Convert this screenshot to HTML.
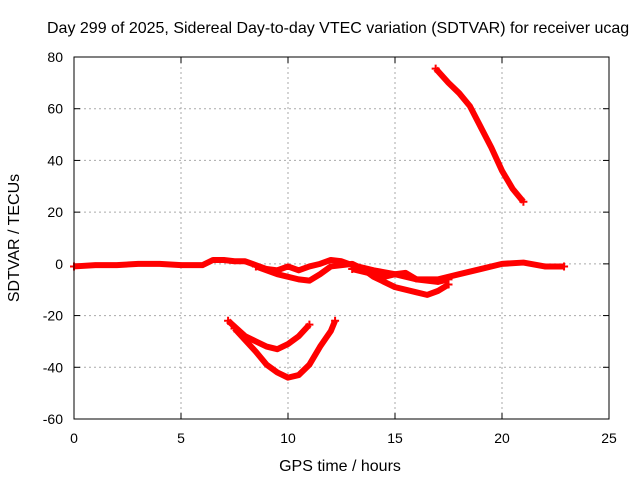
<!DOCTYPE html>
<html><head><meta charset="utf-8"><style>
body{margin:0;background:#fff;font-family:"Liberation Sans",sans-serif}
text{font-family:"Liberation Sans",sans-serif;font-size:14px;fill:#000}
.big{font-size:16px}
</style></head><body>
<svg id="c" width="640" height="480" xmlns="http://www.w3.org/2000/svg">
<text class="big" x="47" y="33">Day 299 of 2025, Sidereal Day-to-day VTEC variation (SDTVAR) for receiver ucag</text>
<text class="big" x="340" y="471" text-anchor="middle">GPS time / hours</text>
<text class="big" transform="translate(19,238) rotate(-90)" text-anchor="middle">SDTVAR / TECUs</text>
<g id="grid"></g><g id="series"></g>
<rect x="74" y="57" width="535" height="362" fill="none" stroke="#000"/>
</svg>
<script>
const xTicks=[0,5,10,15,20,25];
const yTicks=[-60,-40,-20,0,20,40,60,80];
const trackA=[[0,-1],[1,-0.5],[2,-0.5],[3,0],[4,0],[5,-0.5],[6,-0.5],[6.5,1.5],[7,1.5],[7.5,1],[8,1],[8.5,-0.5],[9,-2],[9.5,-2.5],[10,-1],[10.5,-2.5],[11,-1],[11.5,0],[12,1.5],[12.5,1],[13,-0.5],[14,-2.5],[15,-4],[16,-6],[17,-6],[18,-4],[19,-2],[20,0],[21,0.5],[22,-1],[22.9,-1]];
const trackB=[[8.5,-1],[9.5,-4],[10.5,-6],[11,-6.5],[11.5,-4],[12,-1],[13,0],[13.5,-2],[14,-5],[15,-9],[16,-11],[16.5,-12],[17,-10.5],[17.5,-8]];
const trackC=[[13,-2],[14,-4],[14.5,-5],[15,-4],[15.5,-3.5],[16,-6],[17,-7],[17.5,-6]];
const trackD=[[7.2,-22],[8,-28],[8.5,-30],[9,-32],[9.5,-33],[10,-31],[10.5,-28],[11,-23.5]];
const trackE=[[7.5,-25],[8.5,-34],[9,-39],[9.5,-42],[10,-44],[10.5,-43],[11,-39],[11.5,-32],[12,-26],[12.2,-22]];
const trackF=[[16.9,75.5],[17.5,70],[18,66],[18.5,61],[19,53],[19.5,45],[20,36],[20.5,29],[21,24]];
const X=v=>74+v*535/25, Y=v=>57+(80-v)*362/140;
const NS="http://www.w3.org/2000/svg";
const g=document.getElementById('grid'), s=document.getElementById('series');
function mk(t,a,p){const e=document.createElementNS(NS,t);for(const k in a)e.setAttribute(k,a[k]);p.appendChild(e);return e;}
xTicks.forEach(v=>{
 if(v>0&&v<25){const l=mk('line',{x1:X(v),x2:X(v),y1:57,y2:419,stroke:'#aaa','stroke-dasharray':'2,3'},g);
 
 }
 const t=mk('text',{x:X(v),y:443,'text-anchor':'middle'},g);t.textContent=v;
 
 
 mk('line',{x1:X(v),x2:X(v),y1:419,y2:413,stroke:'#000'},g);mk('line',{x1:X(v),x2:X(v),y1:57,y2:63,stroke:'#000'},g);
});
yTicks.forEach(v=>{
 if(v>-60&&v<80){const l=mk('line',{x1:74,x2:609,y1:Y(v),y2:Y(v),stroke:'#aaa','stroke-dasharray':'2,3'},g);
 
 }
 const t=mk('text',{x:63,y:Y(v)+5,'text-anchor':'end'},g);t.textContent=v;
 
 
 mk('line',{x1:74,x2:80,y1:Y(v),y2:Y(v),stroke:'#000'},g);mk('line',{x1:603,x2:609,y1:Y(v),y2:Y(v),stroke:'#000'},g);
});
[trackA,trackB,trackC,trackD,trackE,trackF].forEach((tr,i)=>{
 const p=mk('polyline',{points:tr.map(d=>X(d[0])+','+Y(d[1])).join(' '),fill:'none',stroke:'#f00','stroke-width':6,'stroke-linejoin':'round'},s);
 
 
 [tr[0],tr[tr.length-1]].forEach(d=>{const x=X(d[0]),y=Y(d[1]);
  mk('path',{d:`M${x-4},${y}H${x+4}M${x},${y-4}V${y+4}`,stroke:'#f00','stroke-width':2},s);});
});
</script>
</body></html>
